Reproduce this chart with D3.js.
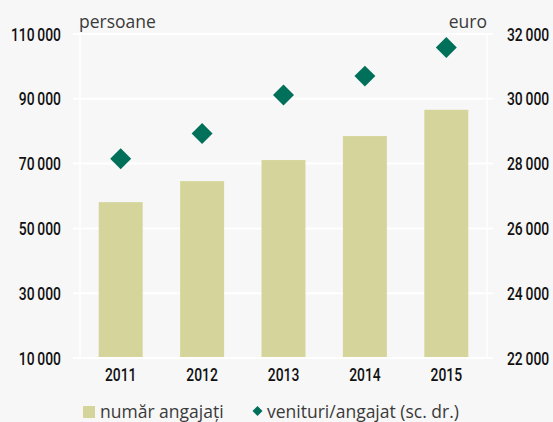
<!DOCTYPE html>
<html>
<head>
<meta charset="utf-8">
<script src="https://cdn.jsdelivr.net/npm/d3@7"></script>
<style>
  body { margin: 0; background: #f7f7f7; }
  svg { display: block; }
</style>
</head>
<body>
<div id="chart"></div>
<script>
var years = ["2011", "2012", "2013", "2014", "2015"];
var angajati = [58100, 64600, 71100, 78500, 86600];
var venituri = [28150, 28930, 30120, 30700, 31580];
var leftTicks = [10000, 30000, 50000, 70000, 90000, 110000];
var rightTicks = [22000, 24000, 26000, 28000, 30000, 32000];

var width = 553, height = 422;
var plotLeft = 80, plotRight = 487, plotTop = 34, plotBottom = 358;
var barColor = "#d5d59b", dotColor = "#00705a";
var numFont = "Roboto, sans-serif";
var textFont = "'Open Sans', sans-serif";
var squeeze = 0.73; // no condensed font here, so narrow the digits by hand

var svg = d3.select("#chart").append("svg")
    .attr("width", width)
    .attr("height", height)

svg.append("rect").attr("width", width).attr("height", height).attr("fill", "#f7f7f7")

var x = d3.scaleBand().domain(years).range([plotLeft, plotRight]).paddingInner(0.46).paddingOuter(0.23);
var y = d3.scaleLinear().domain([10000, 110000]).range([plotBottom, plotTop]);
var y2 = d3.scaleLinear().domain([22000, 32000]).range([plotBottom, plotTop]);

// grid
svg.append("g").selectAll("line").data(leftTicks).enter()
    .append("line")
    .attr("x1", 73).attr("x2", 493)
    .attr("y1", function(d) { return y(d) })
    .attr("y2", function(d) { return y(d) })
    .attr("stroke", "#ffffff")
    .attr("stroke-width", 2)

svg.append("g").selectAll("line").data([plotLeft, plotRight]).enter()
    .append("line")
    .attr("x1", function(d) { return d }).attr("x2", function(d) { return d })
    .attr("y1", plotTop).attr("y2", plotBottom)
    .attr("stroke", "#ffffff")
    .attr("stroke-width", 1.5)

var fmt = function(d) { return d3.format(",")(d).replace(",", "\u2009") }

var yAxis = svg.append("g")
    .attr("transform", "translate(73,0)")
    .call(d3.axisLeft(y).tickValues(leftTicks).tickSize(0).tickPadding(12).tickFormat(fmt))
var y2Axis = svg.append("g")
    .attr("transform", "translate(493,0)")
    .call(d3.axisRight(y2).tickValues(rightTicks).tickSize(0).tickPadding(14).tickFormat(fmt))
var xAxis = svg.append("g")
    .attr("transform", "translate(0," + plotBottom + ")")
    .call(d3.axisBottom(x).tickSize(0).tickPadding(10))

;[yAxis, y2Axis, xAxis].forEach(function(a) {
    a.select(".domain").remove()
    a.selectAll("text")
	.style("font-family", numFont)
	.style("font-size", "19px")
	.style("font-weight", 500)
	.attr("fill", "#111")
	.attr("x", function() { return +d3.select(this).attr("x") / squeeze })
	.attr("transform", "scale(" + squeeze + ",1)")
})

// bars
svg.append("g").selectAll("rect").data(angajati).enter()
    .append("rect")
    .attr("x", function(d, i) { return x(years[i]) })
    .attr("y", function(d) { return y(d) })
    .attr("width", x.bandwidth())
    .attr("height", function(d) { return y(10000) - y(d) - 1 })
    .attr("fill", barColor)

// diamonds
var diamond = d3.symbol().type(d3.symbolSquare).size(220)
svg.append("g").selectAll("path").data(venituri).enter()
    .append("path")
    .attr("d", diamond)
    .attr("transform", function(d, i) {
	return "translate(" + (x(years[i]) + x.bandwidth() / 2) + "," + y2(d) + ") rotate(45)" })
    .attr("fill", dotColor)

// unit labels
svg.append("text")
    .attr("x", 79).attr("y", 28)
    .style("font-family", textFont).style("font-size", "17.5px")
    .attr("fill", "#3a3a3a")
    .text("persoane");
svg.append("text")
    .attr("x", 487).attr("y", 28)
    .attr("text-anchor", "end")
    .style("font-family", textFont).style("font-size", "17.5px")
    .attr("fill", "#3a3a3a")
    .text("euro");

// legend
var legend = svg.append("g")
legend.append("rect")
    .attr("x", 83).attr("y", 406).attr("width", 12).attr("height", 12)
    .attr("fill", barColor)
legend.append("text")
    .attr("x", 100).attr("y", 418)
    .style("font-family", textFont).style("font-size", "17.5px")
    .attr("fill", "#3a3a3a")
    .text("număr angajați")
legend.append("path")
    .attr("d", d3.symbol().type(d3.symbolSquare).size(50))
    .attr("transform", "translate(257.5,411) rotate(45)")
    .attr("fill", dotColor)
legend.append("text")
    .attr("x", 267).attr("y", 418)
    .style("font-family", textFont).style("font-size", "17.5px")
    .attr("fill", "#3a3a3a")
    .text("venituri/angajat (sc. dr.)")
</script>
</body>
</html>
